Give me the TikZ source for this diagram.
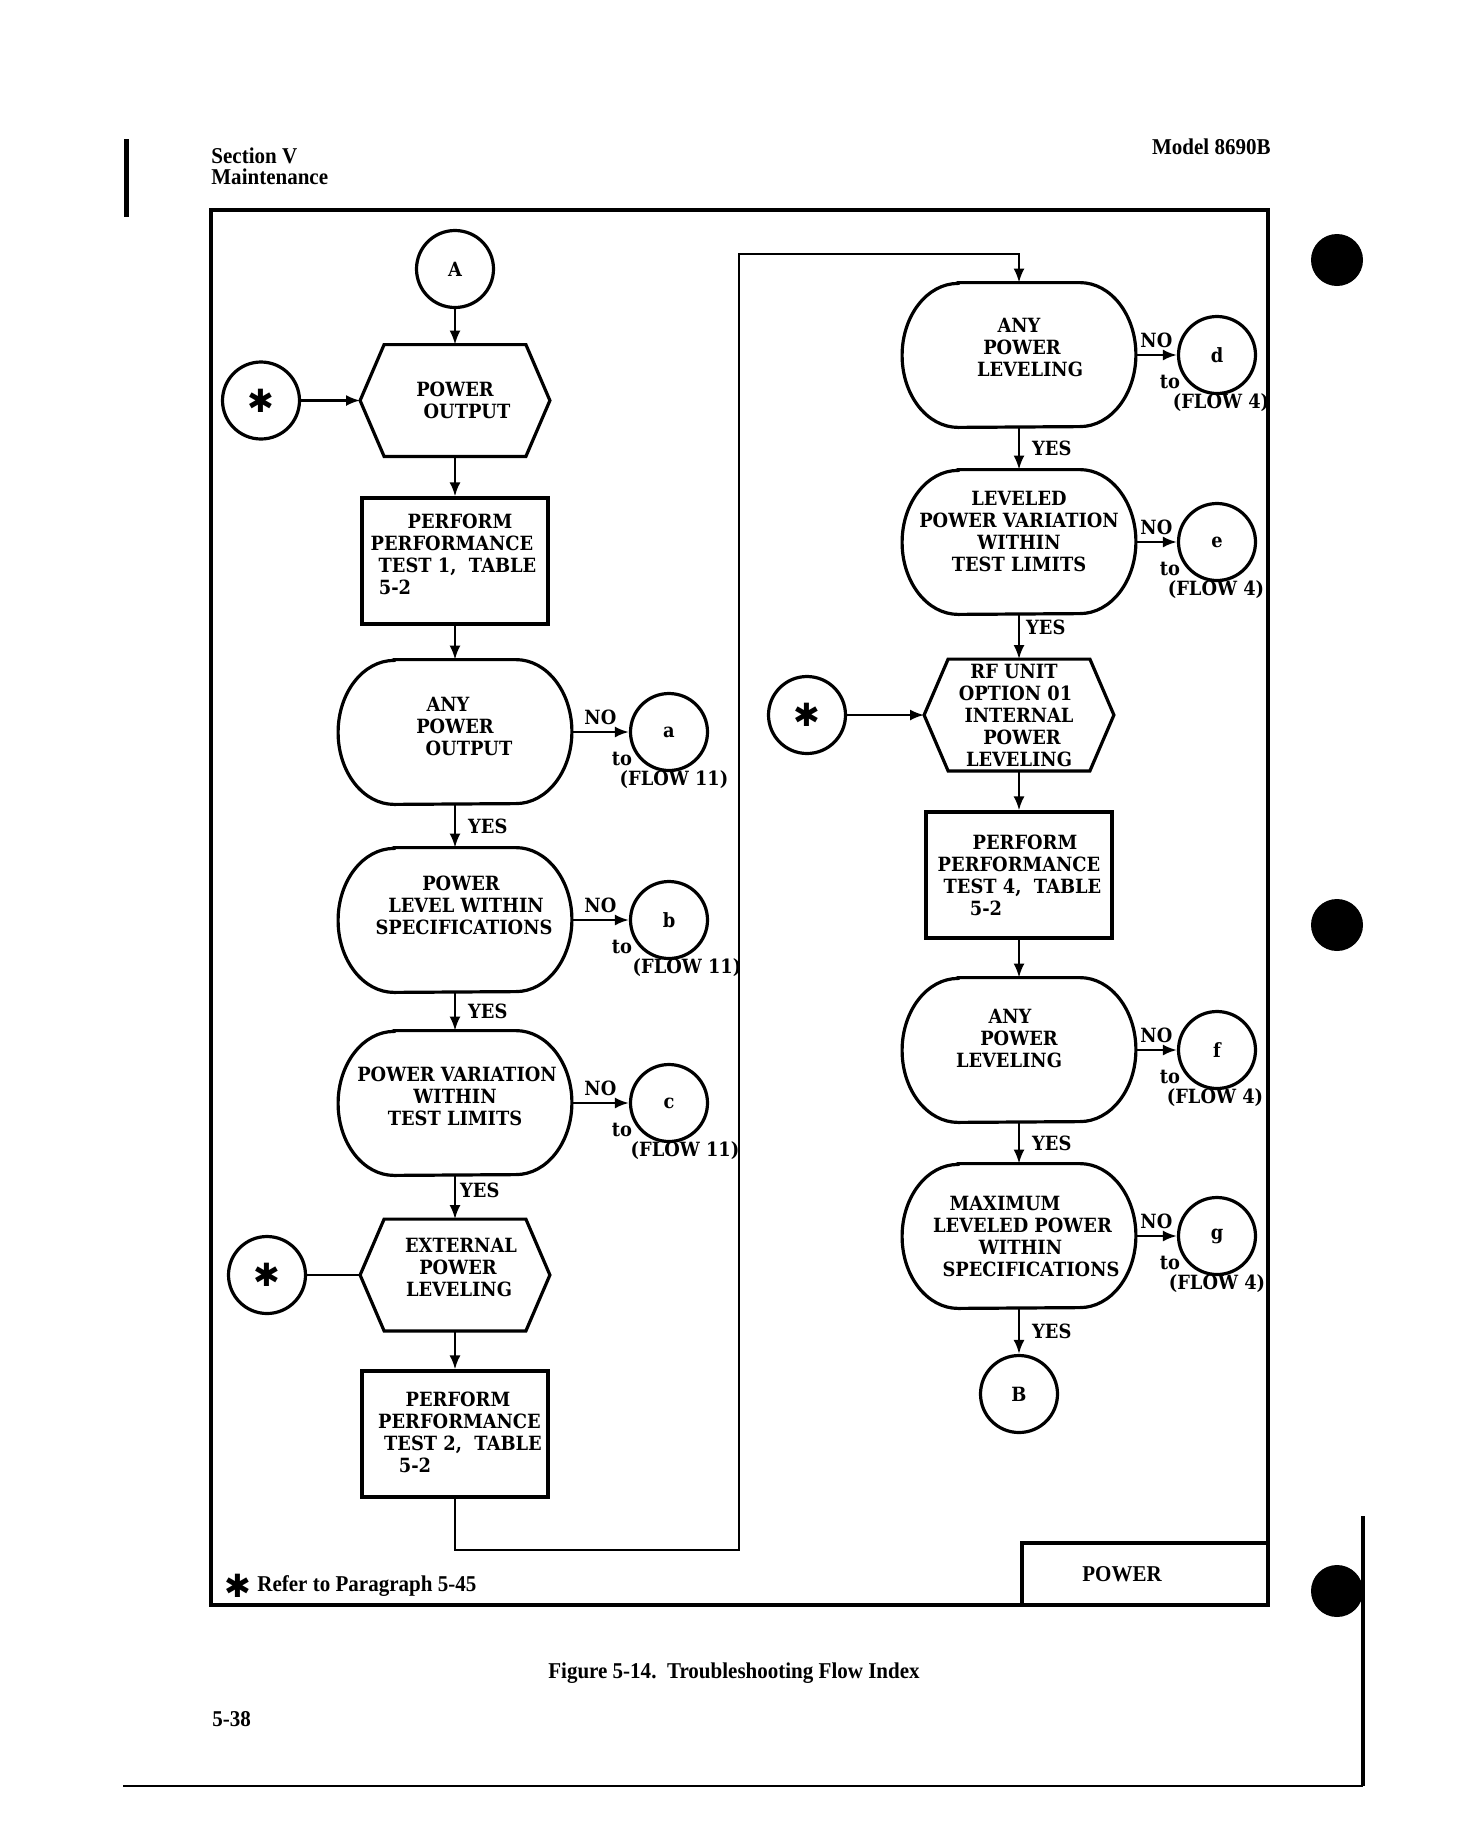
\documentclass[tikz,border=0pt]{standalone}
\usepackage{fontspec}
\setmainfont{DejaVu Serif}[FakeStretch=0.91]
\newfontfamily\capfont{Liberation Serif}[FakeStretch=0.93]
\newfontfamily\symfont{DejaVu Sans}
\usetikzlibrary{arrows.meta,calc}
\tikzset{
  box/.style={draw,line width=1.6pt,minimum width=93pt,minimum height=63pt,align=center},
  ask/.style={minimum width=116.5pt,minimum height=72pt,align=center},
  hexa/.style={minimum width=94.5pt,minimum height=55.5pt,align=center},
  conn/.style={draw,circle,line width=1.6pt,minimum size=38.5pt},
  flow/.style={line width=1.2pt,-{Latex[length=7pt,width=5.5pt]}},
  yes/.style={midway,right=#1},yes/.default=6pt,
  lift/.style={execute at end node={\rule[-#1pt]{0pt}{0pt}}},
  pagetxt/.style={font=\capfont\fontsize{11.3}{13}\selectfont\bfseries}
}
\begin{document}
\begin{tikzpicture}[x=.5pt,y=-.5pt,inner sep=0pt,font=\fontsize{9.8}{11}\selectfont\bfseries]
\useasboundingbox (0,0) rectangle (1463,1842);
\def\sh#1#2{\hspace*{#1}#2\hspace*{-#1}}
\def\hexo#1{\draw[line width=1.6pt] (#1.west) -- ([xshift=12pt]#1.north west) -- ([xshift=-12pt]#1.north east) -- (#1.east) -- ([xshift=-12pt]#1.south east) -- ([xshift=12pt]#1.south west) -- cycle;}
\def\stad#1{\draw[line width=1.6pt] ([xshift=28pt]#1.north west) -- ([xshift=-28pt]#1.north east) arc[start angle=90,end angle=-90,x radius=28pt,y radius=36pt] -- ([xshift=28pt]#1.south west) arc[start angle=270,end angle=90,x radius=28pt,y radius=36pt] -- cycle;}
\def\starc#1#2#3{\node[conn,font=\symfont\fontsize{16}{16}\selectfont] (#1) at (#2,#3) {✱};}
\def\exit#1#2#3#4#5#6{\node[conn] (#1) at (#2,#3) {#1};\draw[flow] (#4) -- (#1);
  \node[above=3.5pt] (no#1) at ($(#4.east)!.5!(#1.west)$) {NO};\node (to#1) at (#2-47,#3+27) {to};\node (fl#1) at (#2+#6,#3+48) {(FLOW #5)};}
% page, frame and scan marks
\draw[line width=2.5pt] (126,139) -- (126,217);
\draw[line width=2pt] (1363,1516) -- (1363,1786);
\draw[line width=1pt] (123,1786) -- (1363,1786);
\foreach \hy in {260,925,1591} \fill (1337,\hy) circle (13pt);
\node[pagetxt,anchor=west] (sect) at (211,156) {Section V};
\node[pagetxt,anchor=west] (maint) at (211,177) {Maintenance};
\node[pagetxt,anchor=east] (model) at (1271,147) {Model 8690B};
\draw[line width=2pt] (211,210) rectangle (1268,1605);
\draw[line width=2pt] (1022,1605) |- (1268,1543);
\node[pagetxt] (tab) at (1122,1574) {POWER};
\node[font=\symfont\fontsize{16}{16}\selectfont] (fstar) at (238,1586) {✱};
\node[pagetxt,anchor=west] (fnote) at (257,1586) {Refer to Paragraph 5-45};
\node[pagetxt] (fig) at (734,1673) {Figure 5-14.\ \ Troubleshooting Flow Index};
\node[pagetxt,anchor=west] (pg) at (212,1719) {5-38};
% left column
\node[conn] (A) at (455,269) {A};
\starc{st1}{261}{400.5}
\node[hexa] (pwr) at (455,400.5) {POWER\\\sh{6pt}{OUTPUT}};\hexo{pwr}
\node[box,lift=7] (t1) at (455,561) {\sh{2.5pt}{PERFORM}\\\sh{-3pt}{PERFORMANCE}\\\sh{2.5pt}{TEST 1,\ \ TABLE}\\\sh{-30pt}{5-2}};
\node[ask,lift=6] (any1) at (455,732) {\sh{-3.5pt}{ANY}\\POWER\\\sh{7pt}{OUTPUT}};\stad{any1}
\node[ask,lift=15] (lvl) at (455,920) {\sh{3pt}{POWER}\\\sh{11pt}{LEVEL WITHIN}\\\sh{4.5pt}{SPECIFICATIONS}};\stad{lvl}
\node[ask,lift=7] (pvar) at (455,1103) {\sh{1pt}{POWER VARIATION}\\WITHIN\\TEST LIMITS};\stad{pvar}
\starc{st2}{267}{1275}
\node[hexa,lift=8] (ext) at (455,1275) {\sh{3pt}{EXTERNAL}\\\sh{3pt}{POWER}\\\sh{2pt}{LEVELING}};\hexo{ext}
\node[box,lift=2] (t2) at (455,1434) {\sh{1.5pt}{PERFORM}\\\sh{4.5pt}{PERFORMANCE}\\\sh{8pt}{TEST 2,\ \ TABLE}\\\sh{-20pt}{5-2}};
\coordinate (lo) at (739,1550);
\coordinate (hi) at (739,254);
\draw[flow] (A) -- (pwr);
\draw[flow] (st1) -- (pwr.west);
\draw[flow] (pwr) -- (t1);
\draw[flow] (t1) -- (any1);
\draw[flow] (any1) -- (lvl) node[yes] (y1) {YES};
\draw[flow] (lvl) -- (pvar) node[yes] (y2) {YES};
\draw[flow] (pvar) -- (ext) node[yes=2pt,pos=.35] (y3) {YES};
\draw[line width=1.2pt] (st2) -- (ext.west);
\draw[flow] (ext) -- (t2);
\exit{a}{669}{732}{any1}{11}{5}
\exit{b}{669}{920}{lvl}{11}{18}
\exit{c}{669}{1103}{pvar}{11}{16}
% right column
\node[ask,lift=8] (any2) at (1019,355) {ANY\\\sh{3pt}{POWER}\\\sh{5.5pt}{LEVELING}};\stad{any2}
\node[ask,lift=11] (lpv) at (1019,542) {LEVELED\\POWER VARIATION\\WITHIN\\TEST LIMITS};\stad{lpv}
\starc{st3}{807}{715}
\node[hexa] (rfu) at (1019,715) {\sh{-2.5pt}{RF UNIT}\\\sh{-3.5pt}{OPTION 01}\\INTERNAL\\\sh{3pt}{POWER}\\LEVELING};\hexo{rfu}
\node[box] (t4) at (1019,875) {\sh{3pt}{PERFORM}\\PERFORMANCE\\\sh{3.5pt}{TEST 4,\ \ TABLE}\\\sh{-16.5pt}{5-2}};
\node[ask,lift=12] (any3) at (1019,1050) {\sh{-4.5pt}{ANY}\\POWER\\\sh{-5pt}{LEVELING}};\stad{any3}
\node[ask] (maxl) at (1019,1236) {\sh{-7pt}{MAXIMUM}\\\sh{3.5pt}{LEVELED POWER}\\\sh{1.5pt}{WITHIN}\\\sh{6pt}{SPECIFICATIONS}};\stad{maxl}
\node[conn] (B) at (1019,1394) {B};
\draw[flow] (t2.south) |- (lo) -- (hi) -| (any2.north);
\draw[flow] (any2) -- (lpv) node[yes] (y4) {YES};
\draw[flow] (lpv) -- (rfu) node[yes=3pt,pos=.3] (y5) {YES};
\draw[flow] (st3) -- (rfu.west);
\draw[flow] (rfu) -- (t4);
\draw[flow] (t4) -- (any3);
\draw[flow] (any3) -- (maxl) node[yes] (y6) {YES};
\draw[flow] (maxl) -- (B) node[yes] (y7) {YES};
\exit{d}{1217}{355}{any2}{4}{4}
\exit{e}{1217}{542}{lpv}{4}{-1}
\exit{f}{1217}{1050}{any3}{4}{-2}
\exit{g}{1217}{1236}{maxl}{4}{0}
\end{tikzpicture}
\end{document}
